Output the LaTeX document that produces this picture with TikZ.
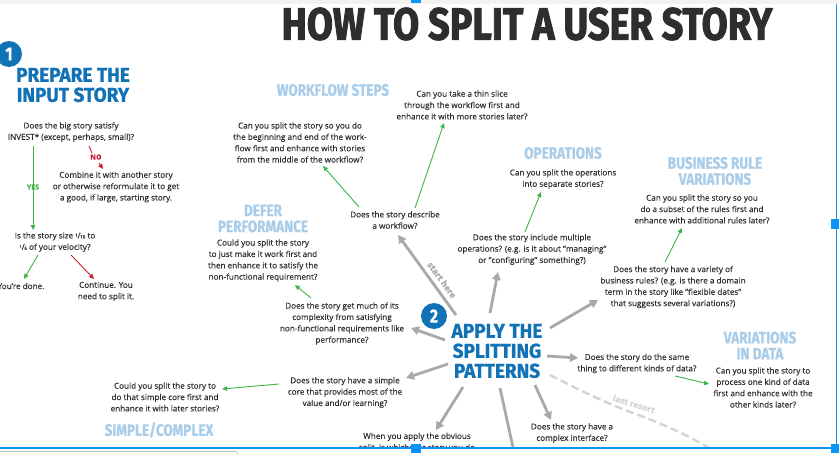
\documentclass[tikz,border=0pt]{standalone}
\usepackage{fontspec}
\setmainfont[FakeBold=0.15]{Open Sans}
\newfontfamily\headfont[BoldFeatures={FakeStretch=0.82,FakeBold=0.6}]{Fira Sans}
\newfontfamily\blueheadfont[BoldFeatures={FakeStretch=0.95,FakeBold=1}]{Fira Sans}
\newfontfamily\titlefont[BoldFeatures={FakeStretch=0.84,FakeBold=2}]{Fira Sans}
\usetikzlibrary{arrows.meta,calc}
\definecolor{inkc}{HTML}{2E2E2E}
\definecolor{bluec}{HTML}{1272B6}
\definecolor{paleblue}{HTML}{A9CDE8}
\definecolor{greenc}{HTML}{3DB54A}
\definecolor{redc}{HTML}{C8202F}
\definecolor{grayarrow}{HTML}{A9A9AD}
\definecolor{dashc}{HTML}{D4D4D4}
\definecolor{selc}{HTML}{0A94F5}
\newcommand{\frc}[2]{\raisebox{1.6pt}{\fontsize{4.5}{5}\selectfont #1}\kern-.3pt/\kern-.3pt{\fontsize{4.5}{5}\selectfont #2}}
\tikzset{
  qtext/.style={text=inkc,align=center,inner sep=0pt,font=\fontsize{8.15}{11.35}\selectfont},
  phead/.style={text=paleblue,align=center,inner sep=0pt,font=\headfont\bfseries\fontsize{16.5}{16}\selectfont},
  bhead/.style={text=bluec,align=center,inner sep=0pt,font=\blueheadfont\bfseries\fontsize{20}{20}\selectfont},
  numdot/.style={circle,fill=bluec,text=white,minimum size=26pt,inner sep=0pt,font=\headfont\bfseries\fontsize{19}{19}\selectfont},
  garrow/.style={draw=greenc,line width=.9pt,-{Triangle[length=5pt,width=4.5pt]}},
  rarrow/.style={draw=redc,line width=.9pt,-{Triangle[length=5pt,width=4.5pt]}},
  grayline/.style={draw=grayarrow,line width=2.8pt,-{Triangle[length=8pt,width=8.5pt]}},
  lastline/.style={draw=dashc,line width=2.4pt,dash pattern=on 8pt off 4pt},
  handle/.style={fill=selc,draw=none}
}
\begin{document}
\begin{tikzpicture}[x=1pt,y=-1pt]
\useasboundingbox (0,0) rectangle (839,455);
\fill[white] (0,0) rectangle (839,455);
\fill[black!5] (0,0) rectangle (839,4);
\begin{scope}
\clip (0,0) rectangle (836,448);
\node[text=inkc,inner sep=0pt,font=\titlefont\bfseries\fontsize{45}{45}\selectfont] (title) at (527,24) {HOW TO SPLIT A USER STORY};
% section 1
\node[numdot] (one) at (9,54) {1};
\node[bhead] (prep) at (73,85) {PREPARE THE\\INPUT STORY};
\node[qtext] (invest) at (71,132) {Does the big story satisfy\\INVEST* (except, perhaps, small)?};
\node[qtext] (combine) at (116,187) {Combine it with another story\\or otherwise reformulate it to get\\a good, if large, starting story.};
\node[qtext] (size) at (55,242) {Is the story size \frc{1}{10} to\\\frc{1}{6} of your velocity?};
\node[qtext] (done) at (21,286) {You're done.};
\node[qtext] (cont) at (106,291.5) {Continue. You\\need to split it.};
\node[text=greenc,inner sep=0pt,font=\bfseries\fontsize{7}{8}\selectfont] (yes) at (33,187) {YES};
\node[text=redc,inner sep=0pt,font=\bfseries\fontsize{7}{8}\selectfont] (no) at (96,157) {NO};
\draw[garrow] ($(invest)+(-38,14)$) -- ($(size)+(-22,-12)$);
\draw[draw=redc,line width=.9pt] ($(invest)+(18,14)$) -- ($(no)+(-4,-4)$);
\draw[rarrow] ($(no)+(3,6)$) -- ($(combine)+(-13,-18)$);
\draw[garrow] ($(size)+(-17,13)$) -- ($(done)+(3,-7)$);
\draw[rarrow] ($(size)+(16,13)$) -- ($(cont)+(-12,-12.5)$);
% section 2
\node[numdot] (two) at (434,316) {2};
\node[bhead] (apply) at (497,351) {APPLY THE\\SPLITTING\\PATTERNS};
% workflow
\node[phead] (wfh) at (333,90) {WORKFLOW STEPS};
\node[qtext] (thin) at (462,105) {Can you take a thin slice\\through the workflow first and\\enhance it with more stories later?};
\node[qtext] (begin) at (300,142.5) {Can you split the story so you do\\the beginning and end of the work-\\flow first and enhance with stories\\from the middle of the workflow?};
\node[qtext] (wf) at (395,220) {Does the story describe\\a workflow?};
\draw[garrow] ($(wf)+(-36,-13)$) -- ($(begin)+(23,23.5)$);
\draw[garrow] ($(wf)+(20,-12)$) -- ($(thin)+(-18,18)$);
\draw[grayline] ($(apply)+(-41,-36)$) -- ($(wf)+(3,15)$);
\node[text=grayarrow,rotate=-54,inner sep=0pt,font=\bfseries\fontsize{8.5}{9}\selectfont] (start) at (442,280) {start here};
% defer
\node[phead] (defh) at (263,218.5) {DEFER\\PERFORMANCE};
\node[qtext] (defq) at (263,260.5) {Could you split the story\\to just make it work first and\\then enhance it to satisfy the\\non-functional requirement?};
\node[qtext] (nfr) at (342,323.5) {Does the story get much of its\\complexity from satisfying\\non-functional requirements like\\performance?};
\draw[garrow] ($(nfr)+(-31,-25.5)$) -- ($(defq)+(32,24.5)$);
\draw[grayline] ($(apply)+(-52,-11)$) -- ($(nfr)+(69,4.5)$);
% simple
\node[qtext] (core) at (345,392.5) {Does the story have a simple\\core that provides most of the\\value and/or learning?};
\node[qtext] (coreq) at (165,397) {Could you split the story to\\do that simple core first and\\enhance it with later stories?};
\node[phead] (simh) at (159,430) {SIMPLE/COMPLEX};
\draw[garrow] ($(core)+(-66,-8.5)$) -- ($(coreq)+(57,-8)$);
\draw[grayline] ($(apply)+(-49,13)$) -- ($(core)+(61,-14.5)$);
% obvious
\node[qtext] (obv) at (417,442.5) {When you apply the obvious\\split, is whichever story you do};
\draw[grayline] ($(apply)+(-34,36)$) -- ($(obv)+(19,-12.5)$);
% operations
\node[phead] (oph) at (563,153) {OPERATIONS};
\node[qtext] (opq) at (563,179) {Can you split the operations\\into separate stories?};
\node[qtext] (mult) at (532,249.5) {Does the story include multiple\\operations? (e.g. is it about "managing"\\or "configuring" something?)};
\draw[garrow] ($(mult)+(-7,-17.5)$) -- ($(opq)+(-22,13)$);
\draw[grayline] ($(apply)+(-7,-38)$) -- ($(mult)+(-34,22.5)$);
% business
\node[phead] (buh) at (715,171) {BUSINESS RULE\\VARIATIONS};
\node[qtext] (buq) at (702,209) {Can you split the story so you\\do a subset of the rules first and\\enhance with additional rules later?};
\node[qtext] (var) at (673,287) {Does the story have a variety of\\business rules? (e.g. is there a domain\\term in the story like "flexible dates"\\that suggests several variations?)};
\draw[garrow] ($(var)+(-8,-25)$) -- ($(buq)+(-20,19)$);
\draw[grayline] ($(apply)+(53,-23)$) -- ($(var)+(-75,13)$);
% data
\node[qtext] (same) at (637,363.5) {Does the story do the same\\thing to different kinds of data?};
\node[phead] (dah) at (760,345.5) {VARIATIONS\\IN DATA};
\node[qtext] (daq) at (763,387.5) {Can you split the story to\\process one kind of data\\first and enhance with the\\other kinds later?};
\draw[garrow] ($(same)+(38,12.5)$) -- ($(daq)+(-54,-3.5)$);
\draw[grayline] ($(apply)+(50,5)$) -- ($(same)+(-59,-5.5)$);
% interface
\node[qtext] (ifc) at (572,433) {Does the story have a\\complex interface?};
\draw[grayline] ($(apply)+(38,34)$) -- ($(ifc)+(-21,-13)$);
% lower branch, cut off by the frame
\coordinate (lowend) at (514,452);
\draw[draw=grayarrow,line width=2.8pt] ($(apply)+(3,37)$) -- (lowend);
% last resort
\coordinate (lastmid) at (633,413);
\coordinate (lastend) at (716,452);
\draw[lastline] ($(apply)+(53,24)$) .. controls (575,388) and (610,405) .. (lastmid) .. controls (655,421) and (685,433) .. (lastend);
\node[text=dashc,rotate=-17,inner sep=0pt,font=\bfseries\fontsize{8.5}{9}\selectfont] (resort) at (634,404) {last resort};
\end{scope}
% screenshot selection frame
\fill[selc] (0,447.4) rectangle (836,448.6);
\fill[selc] (836,4) rectangle (837,448.6);
\fill[handle] (411,0) rectangle (421,3);
\fill[handle] (831,219) rectangle (839,229);
\fill[handle] (411,444) rectangle (421,453);
\fill[handle] (831,444) rectangle (839,453);
\draw[black!25,line width=.6pt,rounded corners=2pt] (-3,458) -- (-3,451.5) -- (238,451.5) -- (238,458);
\end{tikzpicture}
\end{document}
